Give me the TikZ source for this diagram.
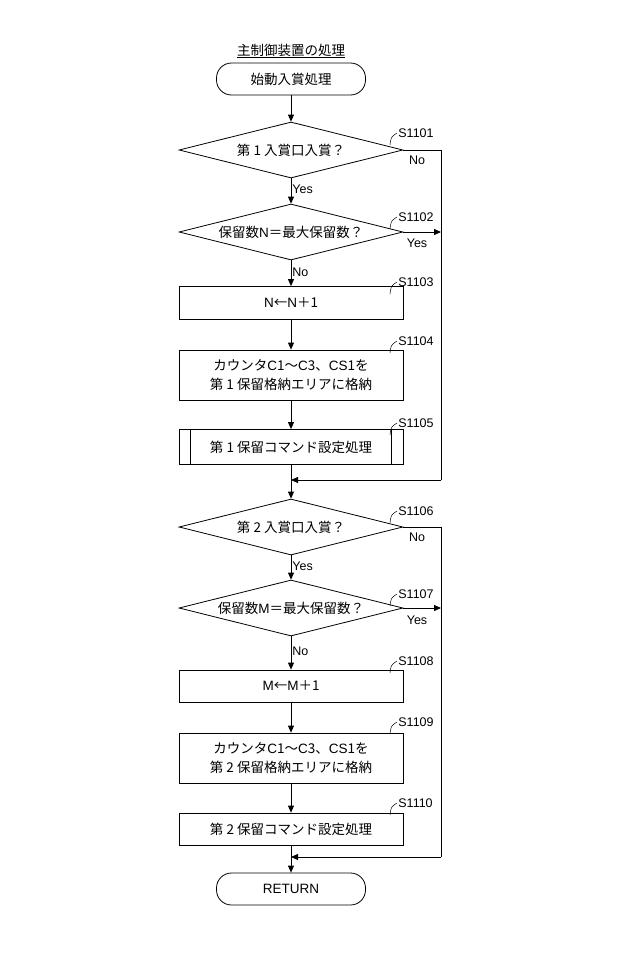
\documentclass[tikz,border=0pt]{standalone}
\usepackage{fontspec}
\setmainfont{Noto Sans CJK JP}
\newfontfamily\lat{Liberation Sans}
\usetikzlibrary{shapes.geometric,arrows.meta}
\begin{document}
\begin{tikzpicture}[x=1pt,y=-1pt,font=\fontsize{13.5}{16}\selectfont,
 line width=0.8pt,
 arr/.style={-{Triangle[length=7pt,width=6pt]}},
 term/.style={draw,rounded corners=15pt,minimum width=149pt,minimum height=32pt},
 dia/.style={draw,diamond,aspect=4,minimum width=224pt,minimum height=56pt,inner sep=0pt},
 box/.style={draw,minimum width=224pt,align=center},
 lbl/.style={font=\lat\fontsize{12.5}{14}\selectfont,inner sep=1pt}]
\useasboundingbox (0,0) rectangle (640,961);
\fill[white] (0,0) rectangle (640,961);
\node[inner sep=1pt] (title) at (291,51) {\underline{主制御装置の処理}};
\node[term] (start) at (291,79) {始動入賞処理};
\node[dia] (d1) at (291,150) {第 1 入賞口入賞？};
\node[dia] (d2) at (291,232) {保留数{\lat N}＝最大保留数？};
\node[box,minimum height=33pt] (b3) at (291,303) {{\lat N}←{\lat N}＋1};
\node[box,minimum height=50pt,font=\fontsize{13.5}{19}\selectfont] (b4) at (291,375) {カウンタ{\lat C}1～{\lat C}3、{\lat CS}1を\\第 1 保留格納エリアに格納};
\node[box,minimum height=35pt] (b5) at (291,447) {第 1 保留コマンド設定処理};
\draw ([xshift=12pt]b5.north west) -- ([xshift=12pt]b5.south west)
      ([xshift=-12pt]b5.north east) -- ([xshift=-12pt]b5.south east);
\coordinate (j1) at (291,480);
\node[dia] (d3) at (291,527) {第 2 入賞口入賞？};
\node[dia] (d4) at (291,608) {保留数{\lat M}＝最大保留数？};
\node[box,minimum height=32pt] (b8) at (291,686) {{\lat M}←{\lat M}＋1};
\node[box,minimum height=50pt,font=\fontsize{13.5}{19}\selectfont] (b9) at (291,758) {カウンタ{\lat C}1～{\lat C}3、{\lat CS}1を\\第 2 保留格納エリアに格納};
\node[box,minimum height=32pt] (b10) at (291,829) {第 2 保留コマンド設定処理};
\coordinate (j2) at (291,857);
\node[term] (ret) at (291,889) {\lat RETURN};
\coordinate (r1) at (441,150);
\coordinate (r2) at (441,232);
\coordinate (r3) at (441,527);
\coordinate (r4) at (441,608);
\draw[arr] (start) -- (d1);
\draw[arr] (d1) -- node[lbl,right,pos=0.45]{Yes} (d2);
\draw[arr] (d2) -- node[lbl,right,pos=0.45]{No} (b3);
\draw[arr] (b3) -- (b4);
\draw[arr] (b4) -- (b5);
\draw[arr] (b5) -- (d3);
\draw (d1.east) -- (r1) -- (441,480);
\draw[arr] (d2.east) -- (r2);
\draw[arr] (441,480) -- (j1);
\draw[arr] (d3) -- node[lbl,right,pos=0.45]{Yes} (d4);
\draw[arr] (d4) -- node[lbl,right,pos=0.45]{No} (b8);
\draw[arr] (b8) -- (b9);
\draw[arr] (b9) -- (b10);
\draw[arr] (b10) -- (ret);
\draw (d3.east) -- (r3) -- (441,857);
\draw[arr] (d4.east) -- (r4);
\draw[arr] (441,857) -- (j2);
\node[lbl] at (417,160) {No};
\node[lbl] at (417,243) {Yes};
\node[lbl] at (417,537) {No};
\node[lbl] at (417,620) {Yes};
\foreach \y/\t in {133/S1101,217/S1102,282/S1103,341/S1104,423/S1105,511/S1106,594/S1107,661/S1108,722/S1109,803/S1110}{
  \draw[line width=0.5pt] (390,\y+12) .. controls (391,\y+4) .. (397,\y);
  \node[lbl,anchor=west] at (397,\y) {\t};
}
\end{tikzpicture}
\end{document}
